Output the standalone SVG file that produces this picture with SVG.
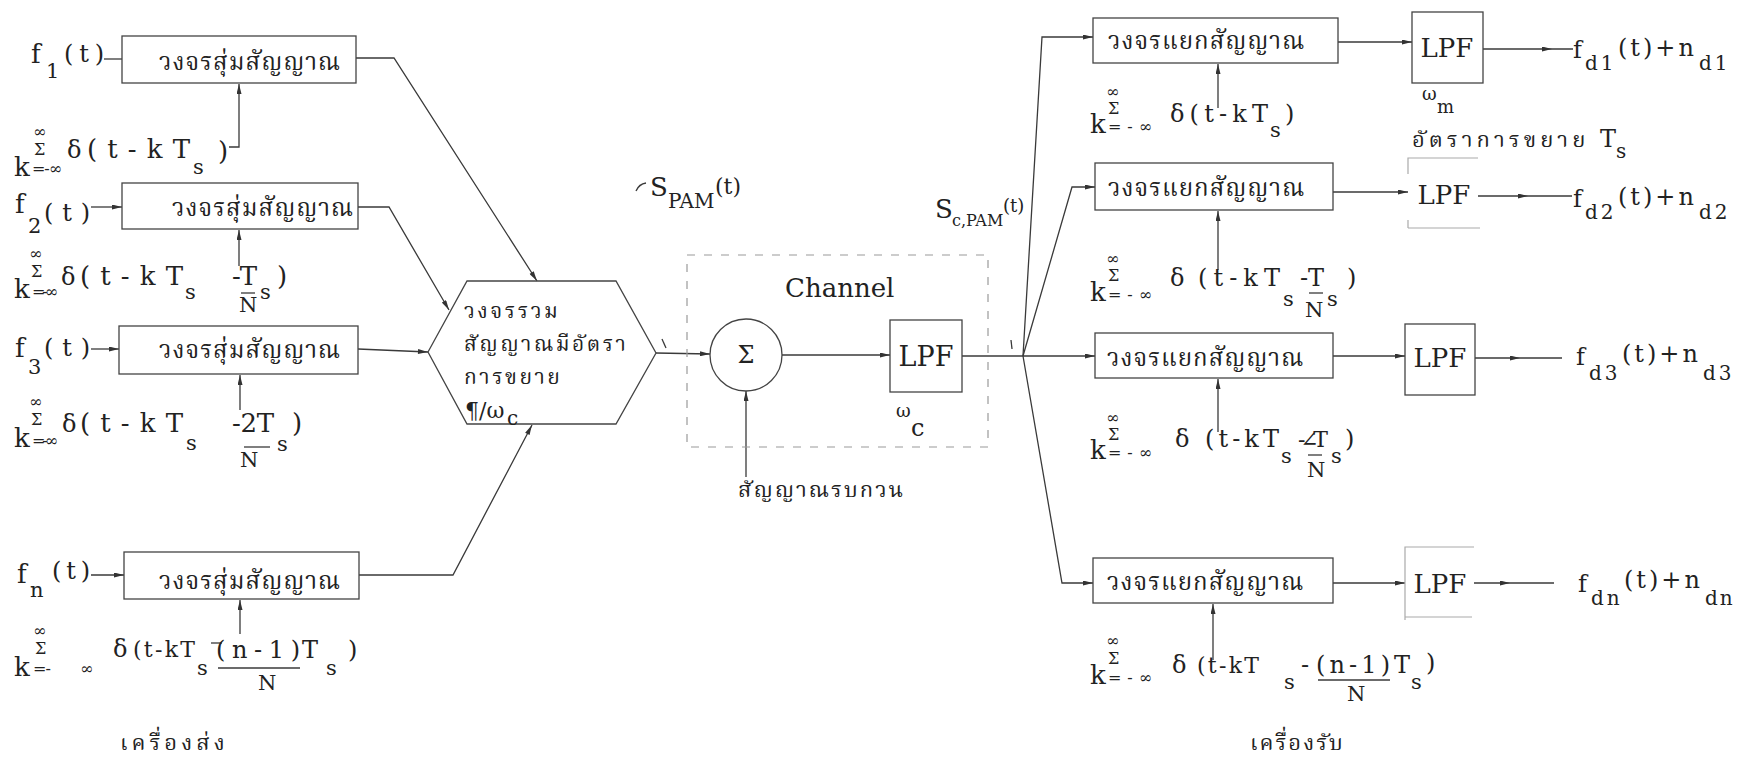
<svg xmlns="http://www.w3.org/2000/svg" width="1739" height="762" viewBox="0 0 1739 762">
<defs>
<marker id="ah" viewBox="0 0 12 6" refX="12" refY="3" markerWidth="12" markerHeight="5" markerUnits="userSpaceOnUse" orient="auto"><path d="M0,0 L12,3 L0,6 z" fill="#333"/></marker>
<style>
.ln{stroke:#3a3a3a;stroke-width:1.3;fill:none}
.ar{stroke:#3a3a3a;stroke-width:1.3;fill:none;marker-end:url(#ah)}
.am{stroke:#3a3a3a;stroke-width:1.3;fill:none;marker-mid:url(#ah)}
.bx{stroke:#444;stroke-width:1.3;fill:none}
.fb{stroke:#aaa;stroke-width:1.2;fill:none}
.dash{stroke:#9a9a9a;stroke-width:1.2;fill:none;stroke-dasharray:8 9}
.th{font-family:"Noto Serif Thai","Noto Sans Thai","Noto Sans","DejaVu Sans",sans-serif;font-size:24px;fill:#222;letter-spacing:1px}
.hx{font-size:21px;letter-spacing:2.5px}
.tm{font-family:"DejaVu Serif","Liberation Serif",serif;fill:#222}
.f26{font-size:26px}.f24{font-size:24px}.f22{font-size:22px}.f21{font-size:21px}.f20{font-size:20px}.f18{font-size:18px}.f16{font-size:16px}.f27{font-size:27px}
</style>
</defs>
<rect width="1739" height="762" fill="#ffffff"/>

<g id="connectors">
<path class="ln" d="M104,59 L122,59"/>
<path class="ar" d="M91,207 L122,207"/>
<path class="ar" d="M91,349 L119,349"/>
<path class="ar" d="M91,575 L124,575"/>
<path class="ar" d="M229,147 L239,147 L239,84"/>
<path class="ar" d="M239,266 L239,230"/>
<path class="ar" d="M240,410 L240,375"/>
<path class="ar" d="M240,634 L240,600"/>
<path class="ar" d="M356,58 L394,58 L537,281"/>
<path class="ar" d="M358,207 L389,207 L449,310"/>
<path class="ar" d="M358,349 L428,352"/>
<path class="ar" d="M359,575 L453,575 L532,425"/>
<path class="ar" d="M656,353 L710,354"/>
<path class="ar" d="M746,477 L746,391"/>
<path class="ar" d="M782,355 L890,355"/>
<path class="ln" d="M962,356 L1023,356"/>
<path class="ar" d="M1023,356 L1042,37 L1093,37"/>
<path class="ar" d="M1023,356 L1072,187 L1095,187"/>
<path class="ar" d="M1023,356 L1095,356"/>
<path class="ar" d="M1023,356 L1062,583 L1093,583"/>
<path class="ar" d="M1218,108 L1218,64"/>
<path class="ar" d="M1218,270 L1218,211"/>
<path class="ar" d="M1218,432 L1218,379"/>
<path class="ar" d="M1213,660 L1213,604"/>
<path class="ar" d="M1338,42 L1412,42"/>
<path class="ar" d="M1333,192 L1408,192"/>
<path class="ar" d="M1333,356 L1405,356"/>
<path class="ar" d="M1333,583 L1405,583"/>
<path class="am" d="M1483,49 L1552,49 L1573,49"/>
<path class="am" d="M1478,196 L1528,196 L1572,196"/>
<path class="am" d="M1475,358 L1520,358 L1562,358"/>
<path class="am" d="M1474,583 L1510,583 L1554,583"/>
<path class="ln" stroke-width="2" d="M662,339 L666,348"/>
<path class="ln" stroke-width="2" d="M1011,340 L1012,349"/>
<path class="ln" d="M636,191 Q639,184 646,183"/>
</g>

<g id="tx-sampler-1"><rect class="bx" x="122" y="36" width="234" height="47"/><text class="th" x="159" y="70">วงจรสุ่มสัญญาณ</text></g>
<g id="tx-sampler-2"><rect class="bx" x="122" y="183" width="236" height="46"/><text class="th" x="172" y="216">วงจรสุ่มสัญญาณ</text></g>
<g id="tx-sampler-3"><rect class="bx" x="119" y="326" width="239" height="48"/><text class="th" x="159" y="358">วงจรสุ่มสัญญาณ</text></g>
<g id="tx-sampler-n"><rect class="bx" x="124" y="552" width="235" height="47"/><text class="th" x="159" y="589">วงจรสุ่มสัญญาณ</text></g>

<g id="in-f1"><text class="tm f26" x="31" y="63">f</text><text class="tm f21" x="46" y="78">1</text><text class="tm f24" x="64" y="62" textLength="40">(t)</text></g>
<g id="in-f2"><text class="tm f26" x="15" y="213">f</text><text class="tm f21" x="28" y="233">2</text><text class="tm f24" x="44" y="221" textLength="46">(t)</text></g>
<g id="in-f3"><text class="tm f26" x="15" y="357">f</text><text class="tm f21" x="28" y="374">3</text><text class="tm f24" x="44" y="356" textLength="46">(t)</text></g>
<g id="in-fn"><text class="tm f26" x="17" y="583">f</text><text class="tm f21" x="30" y="597">n</text><text class="tm f24" x="52" y="579" textLength="38">(t)</text></g>

<g id="tx-clock-1"><text class="tm f16" x="33" y="137">∞</text><text class="tm f16" x="34" y="155">Σ</text><text class="tm f26" x="14" y="176">k</text><text class="tm f16" x="32" y="174" textLength="30">=-∞</text><text class="tm f24" x="67" y="158">δ</text><text class="tm f26" x="87" y="158" textLength="103">(t-kT</text><text class="tm f21" x="193" y="174">s</text><text class="tm f26" x="218" y="160">)</text></g>
<g id="tx-clock-2"><text class="tm f16" x="29" y="259">∞</text><text class="tm f16" x="31" y="277">Σ</text><text class="tm f26" x="14" y="298">k</text><text class="tm f16" x="32" y="297" textLength="26">=-∞</text><text class="tm f24" x="61" y="285">δ</text><text class="tm f26" x="80" y="285" textLength="103">(t-kT</text><text class="tm f21" x="185" y="299">s</text><text class="tm f26" x="232" y="285" textLength="25">-T</text><path class="ln" d="M241,293 L255,293"/><text class="tm f21" x="239" y="312">N</text><text class="tm f21" x="260" y="299">s</text><text class="tm f26" x="277" y="285">)</text></g>
<g id="tx-clock-3"><text class="tm f16" x="29" y="407">∞</text><text class="tm f16" x="31" y="425">Σ</text><text class="tm f26" x="14" y="447">k</text><text class="tm f16" x="32" y="446" textLength="26">=-∞</text><text class="tm f24" x="62" y="432">δ</text><text class="tm f26" x="80" y="432" textLength="103">(t-kT</text><text class="tm f21" x="186" y="450">s</text><text class="tm f26" x="232" y="432" textLength="42">-2T</text><path class="ln" d="M244,447 L270,447"/><text class="tm f21" x="240" y="467">N</text><text class="tm f21" x="277" y="451">s</text><text class="tm f26" x="292" y="432">)</text></g>
<g id="tx-clock-n"><text class="tm f16" x="33" y="636">∞</text><text class="tm f16" x="35" y="654">Σ</text><text class="tm f26" x="14" y="676">k</text><text class="tm f16" x="33" y="674" textLength="18">=-</text><text class="tm f16" x="80" y="674">∞</text><text class="tm f24" x="113" y="657">δ</text><text class="tm f22" x="133" y="657" textLength="62">(t-kT</text><text class="tm f21" x="197" y="675">s</text><path class="ln" d="M211,643 L222,643"/><text class="tm f24" x="216" y="658" textLength="84">(n-1)</text><path class="ln" d="M218,668 L300,668"/><text class="tm f21" x="258" y="690">N</text><text class="tm f24" x="302" y="658">T</text><text class="tm f21" x="326" y="675">s</text><text class="tm f24" x="348" y="658">)</text></g>

<g id="multiplexer"><path class="bx" d="M428,352 L467,281 L616,281 L656,353 L616,424 L467,424 Z"/>
<text class="th hx" x="464" y="318">วงจรรวม</text><text class="th hx" x="464" y="351">สัญญาณมีอัตรา</text><text class="th hx" x="464" y="384">การขยาย</text><text class="tm f22" x="465" y="418">¶/ω</text><text class="tm f20" x="507" y="425">c</text></g>

<g id="label-spam"><text class="tm f26" x="650" y="196">S</text><text class="tm f20" x="668" y="208">PAM</text><text class="tm f22" x="715" y="194">(t)</text></g>

<g id="channel"><rect class="dash" x="687" y="255" width="301" height="192"/><text class="tm f26" x="785" y="297">Channel</text></g>
<g id="summer"><circle class="bx" cx="746" cy="355" r="36"/><text class="tm f24" x="746" y="363" text-anchor="middle">Σ</text></g>
<g id="noise"><text class="th" x="738" y="497" style="font-size:22px;letter-spacing:2px">สัญญาณรบกวน</text></g>
<g id="channel-lpf"><rect class="bx" x="890" y="320" width="72" height="72"/><text class="tm f27" x="926" y="366" text-anchor="middle">LPF</text><text class="tm f18" x="896" y="417">ω</text><text class="tm f24" x="911" y="436">c</text></g>

<g id="label-scpam"><text class="tm f26" x="935" y="218">S</text><text class="tm f16" x="952" y="226">c,PAM</text><text class="tm f18" x="1003" y="212">(t)</text></g>

<g id="rx-sep-1"><rect class="bx" x="1093" y="18" width="245" height="45"/><text class="th" x="1108" y="49">วงจรแยกสัญญาณ</text></g>
<g id="rx-sep-2"><rect class="bx" x="1095" y="163" width="238" height="47"/><text class="th" x="1108" y="196">วงจรแยกสัญญาณ</text></g>
<g id="rx-sep-3"><rect class="bx" x="1095" y="333" width="238" height="45"/><text class="th" x="1107" y="366">วงจรแยกสัญญาณ</text></g>
<g id="rx-sep-n"><rect class="bx" x="1093" y="558" width="240" height="45"/><text class="th" x="1107" y="590">วงจรแยกสัญญาณ</text></g>

<g id="rx-clock-1"><text class="tm f16" x="1106" y="97">∞</text><text class="tm f16" x="1108" y="114">Σ</text><text class="tm f26" x="1090" y="133">k</text><text class="tm f16" x="1108" y="132" textLength="44">=-∞</text><text class="tm f24" x="1170" y="122" textLength="98">δ(t-kT</text><text class="tm f21" x="1270" y="137">s</text><text class="tm f24" x="1285" y="122">)</text></g>
<g id="rx-clock-2"><text class="tm f16" x="1106" y="264">∞</text><text class="tm f16" x="1108" y="281">Σ</text><text class="tm f26" x="1090" y="301">k</text><text class="tm f16" x="1108" y="300" textLength="44">=-∞</text><text class="tm f24" x="1170" y="286">δ</text><text class="tm f24" x="1198" y="286" textLength="82">(t-kT</text><text class="tm f21" x="1283" y="306">s</text><text class="tm f24" x="1300" y="286" textLength="24">-T</text><path class="ln" d="M1309,293 L1323,293"/><text class="tm f21" x="1305" y="317">N</text><text class="tm f21" x="1327" y="306">s</text><text class="tm f24" x="1347" y="286">)</text></g>
<g id="rx-clock-3"><text class="tm f16" x="1106" y="423">∞</text><text class="tm f16" x="1108" y="440">Σ</text><text class="tm f26" x="1090" y="459">k</text><text class="tm f16" x="1108" y="458" textLength="44">=-∞</text><text class="tm f24" x="1175" y="447">δ</text><text class="tm f24" x="1205" y="447" textLength="74">(t-kT</text><text class="tm f21" x="1281" y="463">s</text><text class="tm f22" x="1298" y="447" textLength="30">-∠T</text><path class="ln" d="M1308,455 L1322,455"/><text class="tm f21" x="1307" y="477">N</text><text class="tm f21" x="1331" y="463">s</text><text class="tm f24" x="1345" y="447">)</text></g>
<g id="rx-clock-n"><text class="tm f16" x="1106" y="646">∞</text><text class="tm f16" x="1108" y="664">Σ</text><text class="tm f26" x="1090" y="684">k</text><text class="tm f16" x="1108" y="683" textLength="44">=-∞</text><text class="tm f24" x="1172" y="673">δ</text><text class="tm f22" x="1197" y="673" textLength="62">(t-kT</text><text class="tm f21" x="1284" y="689">s</text><text class="tm f24" x="1301" y="673">-</text><text class="tm f24" x="1316" y="673" textLength="74">(n-1)</text><path class="ln" d="M1318,680 L1390,680"/><text class="tm f21" x="1347" y="701">N</text><text class="tm f24" x="1394" y="673">T</text><text class="tm f21" x="1411" y="689">s</text><text class="tm f24" x="1426" y="671">)</text></g>

<g id="rx-lpf-1"><rect class="bx" x="1412" y="12" width="71" height="71"/><text class="tm f26" x="1447" y="57" text-anchor="middle">LPF</text><text class="tm f18" x="1422" y="100">ω</text><text class="tm f18" x="1437" y="113">m</text><text class="th" x="1412" y="147" style="font-size:22px;letter-spacing:4px">อัตราการขยาย</text><text class="tm f24" x="1600" y="147">T</text><text class="tm f20" x="1616" y="158">s</text></g>
<g id="rx-lpf-2"><path class="fb" d="M1408,174 L1408,158 L1478,158 M1408,228 L1480,228 M1408,228 L1408,220"/><text class="tm f26" x="1444" y="204" text-anchor="middle">LPF</text></g>
<g id="rx-lpf-3"><rect class="bx" x="1405" y="324" width="70" height="71"/><text class="tm f26" x="1440" y="367" text-anchor="middle">LPF</text></g>
<g id="rx-lpf-n"><path class="fb" d="M1405,620 L1405,547 L1474,547 M1405,617 L1472,617"/><text class="tm f26" x="1440" y="593" text-anchor="middle">LPF</text></g>

<g id="out-1"><text class="tm f24" x="1573" y="58">f</text><text class="tm f20" x="1585" y="70" style="letter-spacing:3px">d1</text><text class="tm f24" x="1618" y="56" style="letter-spacing:3px">(t)+n</text><text class="tm f20" x="1699" y="70" style="letter-spacing:3px">d1</text></g>
<g id="out-2"><text class="tm f24" x="1573" y="207">f</text><text class="tm f20" x="1585" y="219" style="letter-spacing:3px">d2</text><text class="tm f24" x="1618" y="205" style="letter-spacing:3px">(t)+n</text><text class="tm f20" x="1699" y="219" style="letter-spacing:3px">d2</text></g>
<g id="out-3"><text class="tm f24" x="1576" y="365">f</text><text class="tm f20" x="1589" y="380" style="letter-spacing:3px">d3</text><text class="tm f24" x="1622" y="362" style="letter-spacing:3px">(t)+n</text><text class="tm f20" x="1703" y="380" style="letter-spacing:3px">d3</text></g>
<g id="out-n"><text class="tm f24" x="1578" y="592">f</text><text class="tm f20" x="1591" y="605" style="letter-spacing:3px">dn</text><text class="tm f24" x="1624" y="588" style="letter-spacing:3px">(t)+n</text><text class="tm f20" x="1705" y="605" style="letter-spacing:2px">dn</text></g>

<g id="caption-tx"><text class="th" x="120" y="750" style="font-size:22px;letter-spacing:4px">เครื่องส่ง</text></g>
<g id="caption-rx"><text class="th" x="1250" y="750" style="font-size:22px;letter-spacing:2px">เครื่องรับ</text></g>
</svg>
